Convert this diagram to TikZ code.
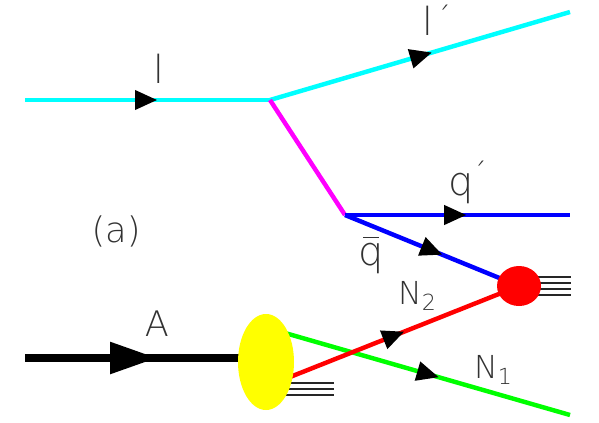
\documentclass[tikz,border=0pt]{standalone}
\usepackage{fontspec}
\IfFontExistsTF{DejaVu Sans ExtraLight}{\setmainfont{DejaVu Sans ExtraLight}}{\setmainfont{Liberation Sans}}
\usetikzlibrary{decorations.markings,arrows.meta,shapes.geometric}
\definecolor{cyanl}{RGB}{0,255,255}
\definecolor{magl}{RGB}{255,0,255}
\definecolor{bluel}{RGB}{0,0,255}
\definecolor{redl}{RGB}{255,0,0}
\definecolor{greenl}{RGB}{0,255,0}
\definecolor{yell}{RGB}{255,255,0}
\definecolor{txt}{RGB}{50,50,50}
\tikzset{
  prop/.style={line width=3.8pt},
  fermion/.style={decoration={markings, mark=at position #1 with {\arrow[black]{Triangle[length=19pt,width=16pt]}}}, postaction={decorate}},
  bigferm/.style={decoration={markings, mark=at position #1 with {\arrow[black]{Triangle[length=40pt,width=26pt]}}}, postaction={decorate}},
  lab/.style={text=txt, inner sep=0pt, font=\fontsize{#1}{#1}\selectfont},
  remnant/.style={line width=1pt, draw=black!85},
  blob/.style={ellipse, inner sep=0pt, draw=none},
}
\begin{document}
\begin{tikzpicture}[x=0.03cm,y=-0.03cm]
\useasboundingbox (0,0) rectangle (599,422);
% vertices
\coordinate (lin) at (25,100);
\coordinate (v1) at (270,100);
\coordinate (lout) at (570,12);
\coordinate (v2) at (345,215);
\coordinate (qout) at (570,215);
\coordinate (Ain) at (25,358);
\coordinate (Aend) at (265,358);
\coordinate (N1out) at (570,415);
\coordinate (N1in) at (285,333);
\coordinate (N2in) at (285,379);
\coordinate (bc) at (519,286);
% lines
\draw[prop, cyanl, fermion=0.54] (lin) -- (v1);
\draw[prop, cyanl, fermion=0.54] (v1) -- (lout);
\draw[prop, magl] (v1) -- (v2);
\draw[prop, bluel, fermion=0.54] (v2) -- (qout);
\draw[prop, bluel, fermion=0.56] (v2) -- (bc);
\draw[prop, greenl, fermion=0.54] (N1in) -- (N1out);
\draw[prop, redl, fermion=0.51] (N2in) -- (bc);
\draw[line width=6pt, black, bigferm=0.55] (Ain) -- (Aend);
% remnant lines
\foreach \y [count=\i] in {383,389,395}{
  \coordinate (ra\i) at (285,\y);
  \coordinate (rb\i) at (334,\y);
  \draw[remnant] (ra\i) -- (rb\i);
}
\foreach \y [count=\i] in {277,283,289,295}{
  \coordinate (sa\i) at (530,\y);
  \coordinate (sb\i) at (571,\y);
  \draw[remnant] (sa\i) -- (sb\i);
}
% blobs
\node[blob, fill=yell, minimum width=1.68cm, minimum height=2.88cm] (nuc) at (266,362) {};
\node[blob, fill=redl, minimum width=1.32cm, minimum height=1.2cm] (blob) at (bc) {};
% labels
\node[lab=33] (ll) at (159,69) {l};
\node[lab=33] (llp) at (428,21) {l};
\node[lab=24] (llpp) at (444,16) {´};
\node[lab=34] (qp) at (461,188) {q};
\node[lab=24] (qpp) at (480,172) {´};
\node[lab=34] (qb) at (371,258) {q};
\draw[line width=0.8pt, txt] (363,237) -- (379,237);
\node[lab=30] (a) at (116,231) {(a)};
\node[lab=30] (A) at (157,324) {A};
\node[lab=27, anchor=base west] (N2) at (398,304) {N\textsubscript{2}};
\node[lab=27, anchor=base west] (N1) at (474,378) {N\textsubscript{1}};
\end{tikzpicture}
\end{document}
